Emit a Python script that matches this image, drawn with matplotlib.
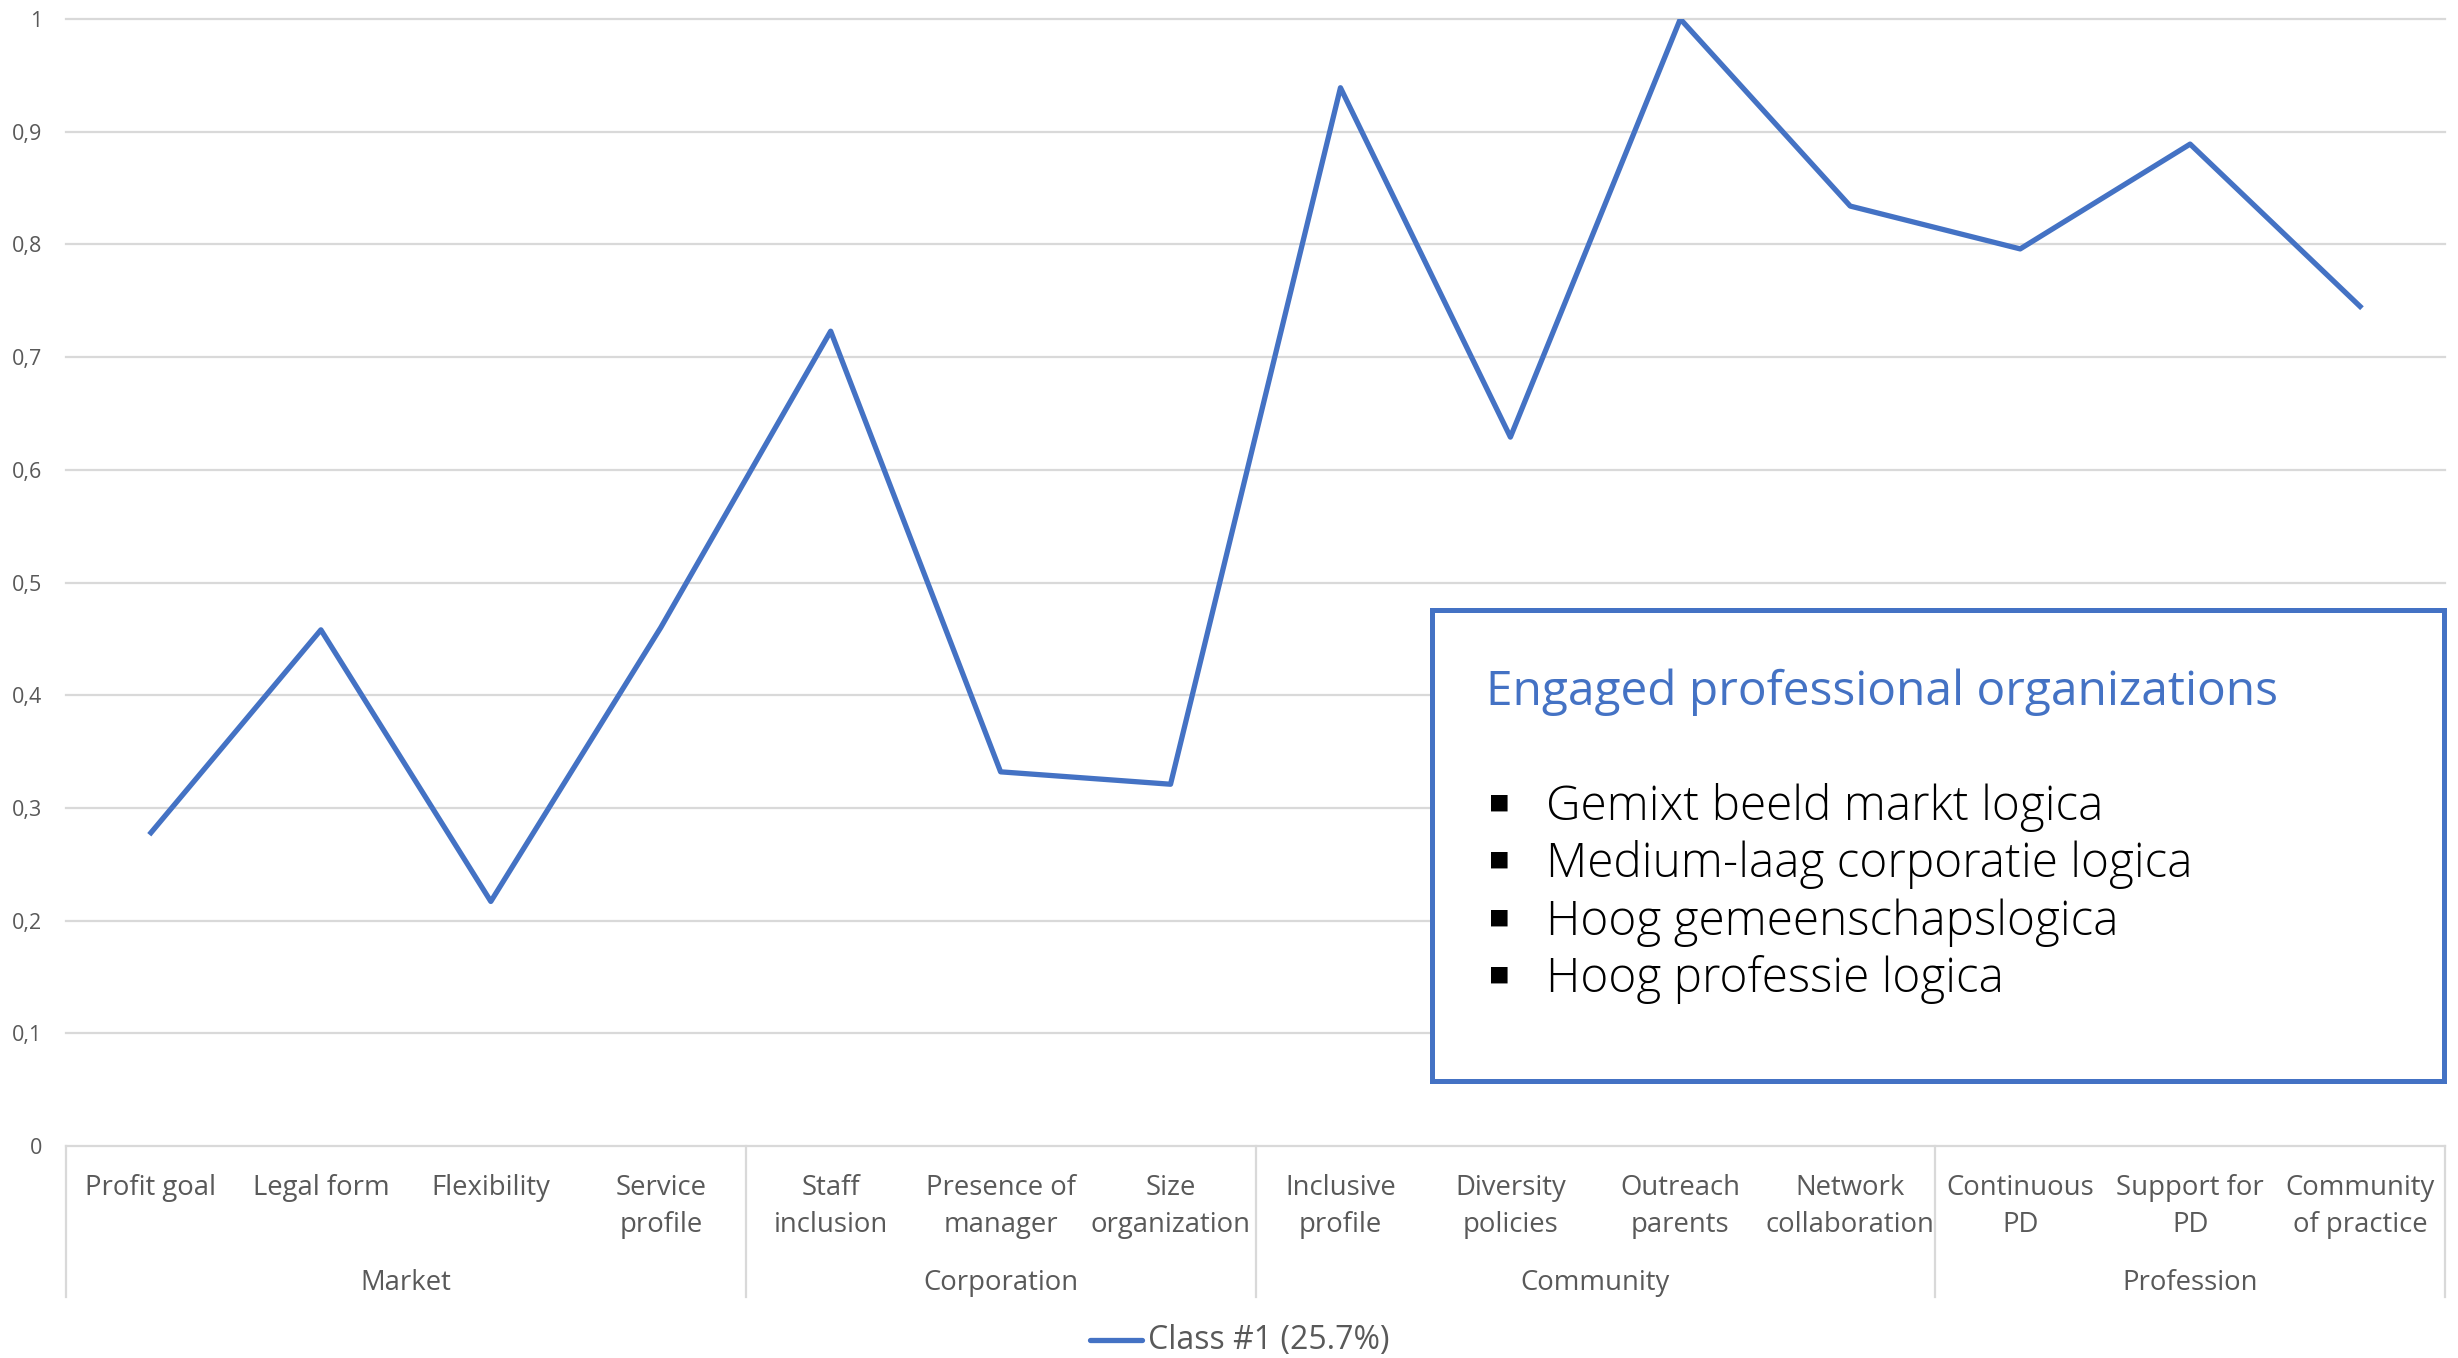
import numpy as np
import matplotlib
matplotlib.use("Agg")
import matplotlib.pyplot as plt
from matplotlib import transforms
from matplotlib.lines import Line2D
from matplotlib.patches import Rectangle

plt.rcParams['font.family'] = ['Open Sans', 'DejaVu Sans']

# --- data -------------------------------------------------------------
categories = [
    "Profit goal", "Legal form", "Flexibility", "Service\nprofile",
    "Staff\ninclusion", "Presence of\nmanager", "Size\norganization",
    "Inclusive\nprofile", "Diversity\npolicies", "Outreach\nparents",
    "Network\ncollaboration", "Continuous\nPD", "Support for\nPD",
    "Community\nof practice",
]
groups = ["Market", "Corporation", "Community", "Profession"]
group_sizes = [4, 3, 4, 3]
class1 = [0.278, 0.458, 0.217, 0.460, 0.723, 0.332, 0.321,
          0.939, 0.629, 1.000, 0.834, 0.796, 0.889, 0.745]
series_label = "Class #1 (25.7%)"
yticks = [0, 0.1, 0.2, 0.3, 0.4, 0.5, 0.6, 0.7, 0.8, 0.9, 1.0]
box_title = "Engaged professional organizations"
box_items = [
    "Gemixt beeld markt logica",
    "Medium-laag corporatie logica",
    "Hoog gemeenschapslogica",
    "Hoog professie logica",
]

# --- layout helpers -----------------------------------------------------
W, H = 2458, 1358
BLUE = "#4472C4"
GRID = "#D9D9D9"
TXT = "#595959"


def fx(x):
    return x / W


def fy(y):
    return 1 - y / H


fig = plt.figure(figsize=(W / 100, H / 100), dpi=100)
ax = fig.add_axes([fx(66), fy(1146), fx(2445) - fx(66), fy(19) - fy(1146)])

x = np.arange(len(categories))
ax.plot(x, class1, color=BLUE, lw=3.8, solid_joinstyle="round", zorder=3)

ax.set_xlim(-0.5, len(categories) - 0.5)
ax.set_ylim(0, 1)
for s in ax.spines.values():
    s.set_visible(False)
ax.set_xticks([])
ax.set_yticks(yticks)
ax.set_yticklabels([("%g" % v).replace(".", ",") for v in yticks],
                   fontsize=15.5, color=TXT)
ax.tick_params(axis="y", length=0, pad=17)
for v in yticks:
    ax.axhline(v, color=GRID, lw=1.6, zorder=1, clip_on=False)

# category axis: labels, group labels, separators
bt = transforms.blended_transform_factory(ax.transData, fig.transFigure)
for i, lab in enumerate(categories):
    for j, line in enumerate(lab.split("\n")):
        ax.text(i, fy(1195 + 37 * j), line, transform=bt, ha="center",
                va="baseline", fontsize=19.8, color=TXT)

bounds = np.concatenate([[0], np.cumsum(group_sizes)]) - 0.5
for b in bounds:
    ax.add_line(Line2D([b, b], [fy(1146), fy(1297)], transform=bt,
                       color=GRID, lw=1.6, clip_on=False))
for g, a, b in zip(groups, bounds[:-1], bounds[1:]):
    ax.text((a + b) / 2, fy(1290), g, transform=bt, ha="center",
            va="baseline", fontsize=19.8, color=TXT)

# legend
fig.add_artist(Line2D([fx(1090), fx(1142)], [fy(1340), fy(1340)],
                      color=BLUE, lw=3.8, solid_capstyle="round"))
fig.text(fx(1148), fy(1349), series_label, ha="left", va="baseline",
         fontsize=23, color=TXT)

# annotation box
fig.add_artist(Rectangle((fx(1432), fy(1081)), fx(2444) - fx(1432),
                         fy(610) - fy(1081), transform=fig.transFigure,
                         facecolor="white", edgecolor=BLUE, lw=3.6,
                         zorder=5))
fig.text(fx(1486), fy(705), box_title, ha="left", va="baseline",
         fontsize=34.5, color=BLUE, zorder=6)
for k, item in enumerate(box_items):
    base = 820 + 57.3 * k
    fig.text(fx(1488), fy(base - 18), "\u25aa", ha="left", va="center",
             fontsize=24, color="black", family="DejaVu Sans", zorder=6)
    fig.text(fx(1546), fy(base), item, ha="left", va="baseline",
             fontsize=34.4, color="black", fontweight="light", zorder=6)

fig.savefig("out.png", dpi=100, facecolor="white")
